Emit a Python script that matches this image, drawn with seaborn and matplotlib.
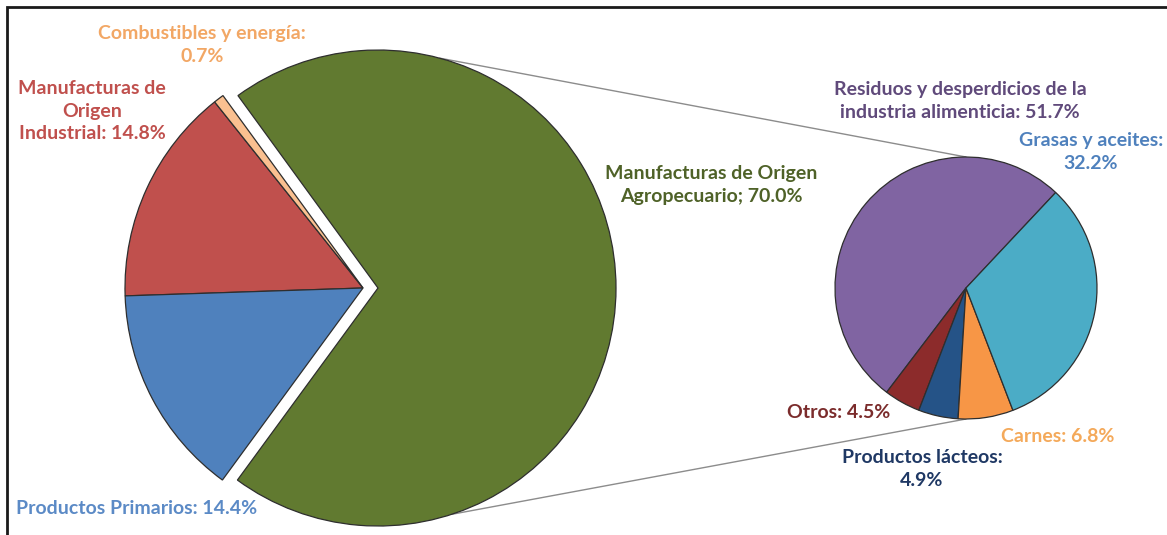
import matplotlib
matplotlib.use("Agg")
import matplotlib.pyplot as plt
import seaborn as sns
import numpy as np
from matplotlib.patches import Rectangle

# ---------------- data ----------------
main_names = ["Manufacturas de\nOrigen\nIndustrial", "Productos Primarios",
              "Manufacturas de Origen\nAgropecuario", "Combustibles y energía"]
main_values = [14.8, 14.4, 70.0, 0.7]
main_seps = [": ", ": ", "; ", ":\n"]

sub_names = ["Residuos y desperdicios de la\nindustria alimenticia", "Otros",
             "Productos lácteos", "Carnes", "Grasas y aceites"]
sub_values = [51.7, 4.5, 4.9, 6.8, 32.2]
sub_seps = [": ", ": ", ":\n", ": ", ":\n"]

# ---------------- style ----------------
sns.set_theme(style="white")
plt.rcParams["font.family"] = ["Lato", "DejaVu Sans"]

main_colors = ["#C0504D", "#4F81BD", "#617A30", "#FAC090"]
main_text_colors = ["#C0504D", "#5B8AC6", "#4F6228", "#F2A765"]
sub_colors = ["#8064A2", "#8C2B2B", "#255387", "#F79646", "#4BACC6"]
sub_text_colors = ["#604A7B", "#7B2C2C", "#1F3864", "#F4A95A", "#4F81BD"]

W, H = 1167, 535
fig = plt.figure(figsize=(W / 100, H / 100), dpi=100)
ax = fig.add_axes([0, 0, 1, 1])

# geometry (pixel units, y measured from bottom)
c1 = (363, H - 288)
r1 = 238
explode_px = 15
c2 = (966, H - 288)
r2 = 131

total1 = sum(main_values)
start1 = 181.9 - 360 * main_values[0] / total1
explode = [0, 0, explode_px, 0]   # matplotlib explode is in data units
wp = dict(edgecolor="#2E2E2E", linewidth=0.9)
w1, _ = ax.pie(main_values, colors=main_colors, startangle=start1,
               counterclock=True, center=c1, radius=r1, explode=explode,
               wedgeprops=wp)
w2, _ = ax.pie(sub_values, colors=sub_colors, startangle=46.8,
               counterclock=True, center=c2, radius=r2, wedgeprops=wp)

# connector lines from exploded slice to secondary pie
gc = (c1[0] + explode_px, c1[1])
for ang, ty in [(75, c2[1] + r2), (-72, c2[1] - r2)]:
    x0 = gc[0] + r1 * np.cos(np.radians(ang))
    y0 = gc[1] + r1 * np.sin(np.radians(ang))
    ax.plot([x0, c2[0]], [y0, ty], color="#8C8C8C", lw=1.0, zorder=0.5)

# ---------------- labels ----------------
fs = 14
ls = 1.4
main_pos = [(92, 111), (137, 509), (711, 185), (202, 45)]
for name, v, sep, col, (x, y) in zip(main_names, main_values, main_seps,
                                      main_text_colors, main_pos):
    ax.text(x, H - y, f"{name}{sep}{v:.1f}%", ha="center", va="center",
            fontsize=fs, fontweight="bold", color=col, linespacing=ls)

sub_pos = [(960, 101), (839, 412), (922, 469), (1058, 436), (1091, 152)]
for name, v, sep, col, (x, y) in zip(sub_names, sub_values, sub_seps,
                                      sub_text_colors, sub_pos):
    ax.text(x, H - y, f"{name}{sep}{v:.1f}%", ha="center", va="center",
            fontsize=fs, fontweight="bold", color=col, linespacing=ls)

# frame (top and left edges visible)
ax.add_patch(Rectangle((7, -20), W + 40, H - 7 + 20, fill=False,
                       edgecolor="#1A1A1A", lw=2, zorder=5, clip_on=False))

ax.set_xlim(0, W)
ax.set_ylim(0, H)
ax.set_aspect("equal")
ax.axis("off")
fig.savefig("out.png", dpi=100, facecolor="white")
